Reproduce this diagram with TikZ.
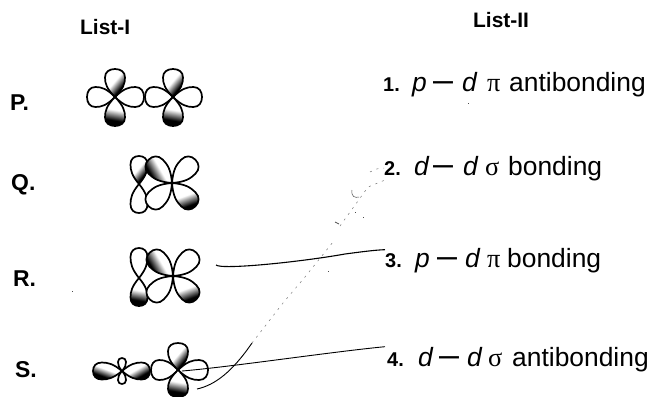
\documentclass[tikz,border=0pt]{standalone}
\usepackage{fontspec}
\setmainfont{Liberation Sans}
\newfontfamily\grk{Liberation Serif}
\pgfdeclarehorizontalshading{lobeshade}{100bp}{color(0bp)=(white); color(47bp)=(white); color(66bp)=(black); color(100bp)=(black)}
\newcommand\lobeshape[2]{(0,0) .. controls ({.3*#1},{-.42*#2}) and ({.48*#1},{-.5*#2}) .. ({.7*#1},{-.5*#2})
      .. controls ({.9*#1},{-.5*#2}) and (#1,{-.28*#2}) .. (#1,0)
      .. controls (#1,{.28*#2}) and ({.9*#1},{.5*#2}) .. ({.7*#1},{.5*#2})
      .. controls ({.48*#1},{.5*#2}) and ({.3*#1},{.42*#2}) .. (0,0) -- cycle}
\newcommand\plainlobe[5]{%
  \begin{scope}[shift={(#1,#2)},rotate=#3]
    \draw[orb,fill=white] \lobeshape{#4}{#5};
  \end{scope}}
\newcommand\darklobe[6]{%
  \begin{scope}[shift={(#1,#2)},rotate=#3]
    \draw[orb,shading=lobeshade,shading angle=#6] \lobeshape{#4}{#5};
  \end{scope}}
\newcommand\longdash{\raisebox{0pt}{\scalebox{1.36}[1.3]{–}}}
\newcommand\cell[2]{\rlap{\hspace*{#1bp}#2}}
\newcommand\lastcell[2]{\hspace*{#1bp}#2}
\newcommand\num[1]{{\fontsize{20}{24}\selectfont\bfseries #1}}
\tikzset{
  orb/.style={draw=black,line width=1.7bp,line join=round},
  head/.style={font=\fontsize{21}{24}\selectfont\bfseries,inner sep=0pt,anchor=base west},
  letter/.style={font=\fontsize{23}{27}\selectfont\bfseries,inner sep=0pt,anchor=base west},
  entry/.style={font=\fontsize{26.5}{31}\selectfont,inner sep=0pt,anchor=base west},
  link/.style={draw=black,line width=1.1bp},
  faint/.style={draw=black!55,line width=.5bp,dash pattern=on 2bp off 5bp},
  speck/.style={draw=black!70,line width=.7bp}
}
\begin{document}
\begin{tikzpicture}[x=1bp,y=-1bp]
\useasboundingbox (0,0) rectangle (651,396);
% headings and letters
\node[head] (l1) at (80,34) {List-I};
\node[head] (l2) at (473,27) {List-II};
\node[letter] (p) at (10,110) {P.};
\node[letter] (q) at (11,190) {Q.};
\node[letter] (r) at (13,286) {R.};
\node[letter] (s) at (15,377) {S.};
% right column
\node[entry] (i1) at (383,91) {\cell{0}{\num{1.}}\cell{29}{\textit{p}}\cell{50}{\longdash}\cell{79}{\textit{d}}\cell{104}{{\grk π}}\lastcell{126}{antibonding}};
\node[entry] (i2) at (384,175) {\cell{0}{\num{2.}}\cell{30}{\textit{d}}\cell{49}{\longdash}\cell{79}{\textit{d}}\cell{101}{{\grk σ}}\lastcell{124}{bonding}};
\node[entry] (i3) at (385,267) {\cell{0}{\num{3.}}\cell{30}{\textit{p}}\cell{52}{\longdash}\cell{80}{\textit{d}}\cell{102}{{\grk π}}\lastcell{122}{bonding}};
\node[entry] (i4) at (387,366) {\cell{0}{\num{4.}}\cell{31}{\textit{d}}\cell{52}{\longdash}\cell{80}{\textit{d}}\cell{101}{{\grk σ}}\lastcell{125}{antibonding}};
% P
\plainlobe{115}{97}{180}{28}{20}
\plainlobe{115}{97}{0}{29}{20}
\darklobe{115}{97}{90}{28}{20}{-40}
\darklobe{115}{97}{-90}{29}{20}{-100}
\plainlobe{173}{97}{180}{28}{20}
\plainlobe{173}{97}{0}{29}{20}
\darklobe{173}{97}{90}{28}{20}{-40}
\darklobe{173}{97}{-90}{29}{20}{-100}
% Q
\darklobe{139}{184}{90}{28}{17}{-40}
\plainlobe{139}{184}{-90}{29}{17}
\plainlobe{172}{183}{45}{33}{20}
\plainlobe{172}{183}{-135}{33}{20}
\darklobe{172}{183}{135}{33}{20}{-150}
\darklobe{172}{183}{-45}{33}{20}{-70}
% R
\plainlobe{139}{278}{90}{30}{17}
\darklobe{139}{278}{-90}{28}{17}{-100}
\plainlobe{173}{276}{45}{33}{20}
\plainlobe{173}{276}{-135}{33}{20}
\darklobe{173}{276}{135}{33}{20}{-150}
\darklobe{173}{276}{-45}{33}{20}{-70}
% S
\darklobe{122}{371}{180}{29}{17}{-110}
\darklobe{122}{371}{0}{28}{17}{-60}
\plainlobe{122}{371}{90}{13}{8}
\plainlobe{122}{371}{-90}{13}{8}
\plainlobe{178}{370}{180}{27}{20}
\plainlobe{178}{370}{0}{30}{20}
\darklobe{178}{370}{90}{27}{20}{-40}
\darklobe{178}{370}{-90}{27}{20}{-100}
% connectors
\coordinate (rstart) at (216,265);
\coordinate (scentre) at (182,371);
\coordinate (stail) at (197,389);
\coordinate (dmid) at (252,343);
\draw[link] (rstart) .. controls (222,270) and (300,262) .. (345,254) .. controls (360,252) and (375,250) .. ([yshift=-2bp]i3.north west);
\draw[link,line width=.9bp] (scentre) .. controls (230,367) and (330,352) .. ([xshift=-2bp]i4.north west);
\draw[link,line width=.9bp] (stail) .. controls (215,385) and (232,372) .. (dmid);
\draw[faint] (dmid) -- (283,303) -- (305,277) -- (333,242);
\draw[faint] (340,226) -- (368,187) -- (385,180);
\draw[faint] (370,172) .. controls (375,169) and (379,168) .. (i2.west);
\draw[speck,line width=.5bp] (352,190) .. controls (351,197) and (355,198) .. (359,197);
\draw[speck] (328,271) -- (329,271);
\draw[speck] (355,212) -- (356,212);
\draw[speck] (363,217) -- (364,217);
\draw[speck] (335,222) -- (339,224);
\draw[speck] (468,103) -- (469,103);
\draw[speck] (72,291) -- (73,291);
\end{tikzpicture}
\end{document}
